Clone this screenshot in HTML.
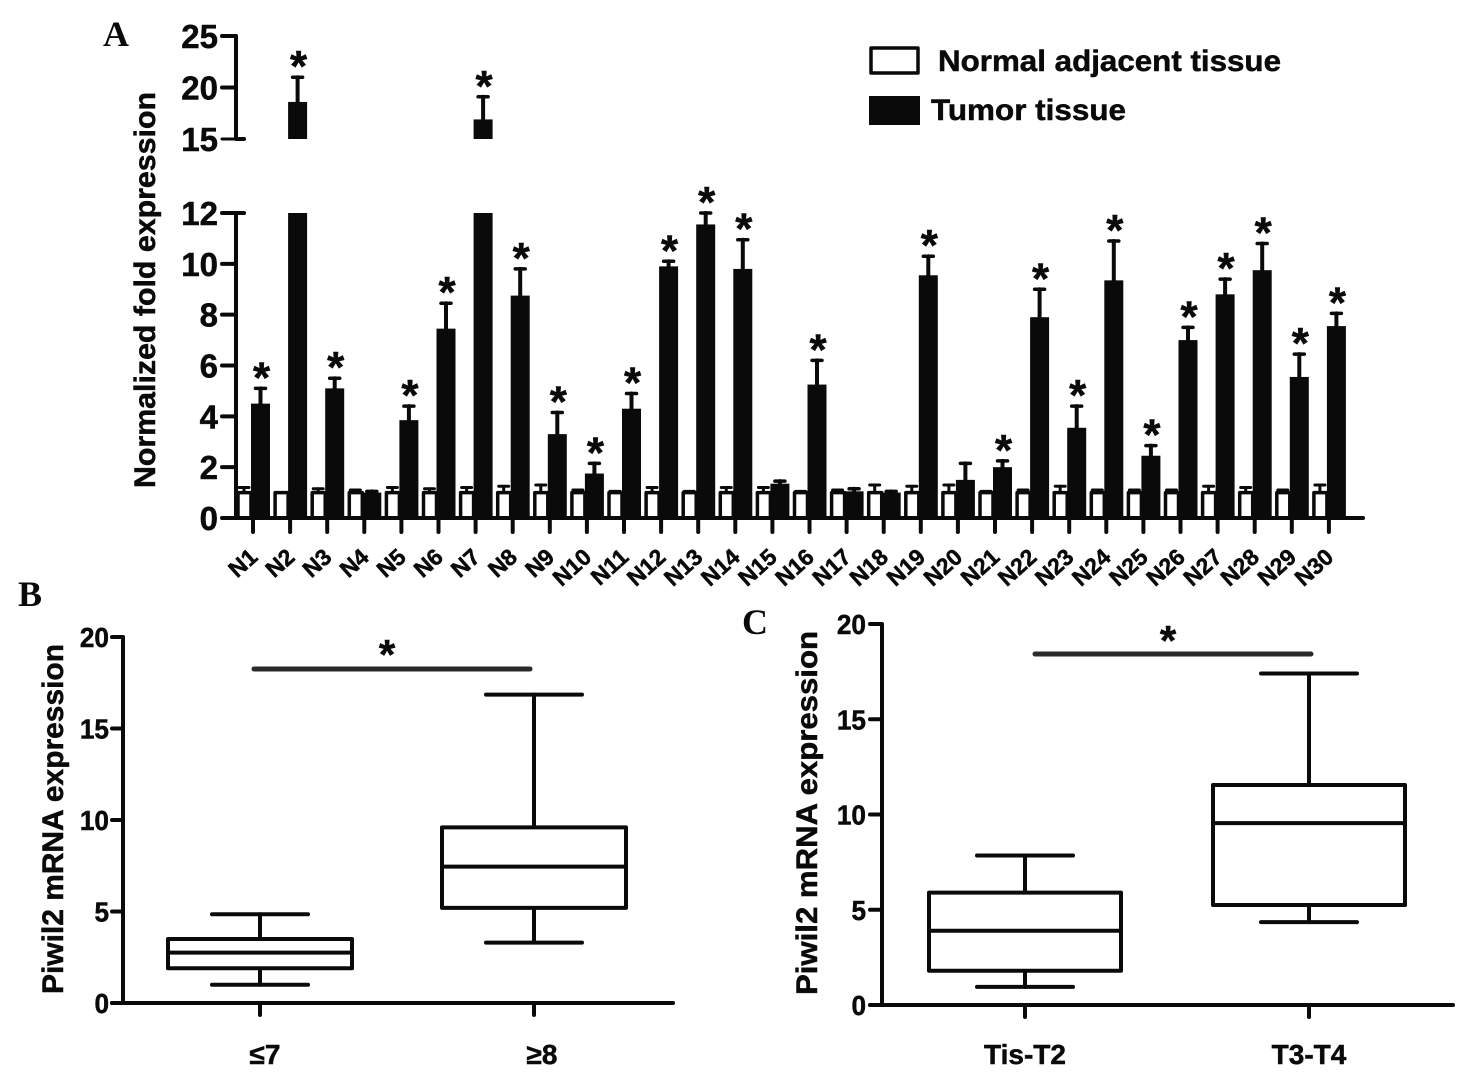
<!DOCTYPE html>
<html lang="en">
<head>
<meta charset="utf-8">
<title>Piwil2 expression figure</title>
<style>
html,body{margin:0;padding:0;background:#fff;}
svg{display:block;}
text{font-family:"Liberation Sans",sans-serif;font-weight:bold;fill:#0a0a0a;stroke:#0a0a0a;stroke-width:.5px;}
.serif{font-family:"Liberation Serif",serif;stroke-width:0;}
</style>
</head>
<body>
<svg id="figure" xmlns="http://www.w3.org/2000/svg" width="1472" height="1083" viewBox="0 0 1472 1083"></svg>
<script>
// Panel A data
const sampleLabels = ["N1","N2","N3","N4","N5","N6","N7","N8","N9","N10","N11","N12","N13","N14","N15","N16","N17","N18","N19","N20","N21","N22","N23","N24","N25","N26","N27","N28","N29","N30"];
const normalMeans = [1,1,1,1,1,1,1,1,1,1,1,1,1,1,1,1,1,1,1,1,1,1,1,1,1,1,1,1,1,1];
const normalErrorTops = [1.2,1.0,1.15,1.1,1.2,1.15,1.2,1.25,1.3,1.1,1.05,1.2,1.05,1.2,1.2,1.05,1.1,1.3,1.25,1.3,1.05,1.1,1.25,1.1,1.1,1.1,1.25,1.2,1.1,1.3];
const tumorMeans = [4.5,18.6,5.1,1.0,3.85,7.45,16.9,8.75,3.3,1.75,4.3,9.9,11.55,9.8,1.35,5.25,1.05,1.0,9.55,1.5,2.0,7.9,3.55,9.35,2.45,7.0,8.8,9.75,5.55,7.55];
const tumorErrorTops = [5.1,21,5.5,1.05,4.4,8.45,19.1,9.8,4.15,2.15,4.9,10.1,12.0,10.95,1.45,6.2,1.15,1.05,10.3,2.15,2.25,9.0,4.4,10.9,2.85,7.5,9.4,10.8,6.45,8.05];
const significant = [1,1,1,0,1,1,1,1,1,1,1,1,1,1,0,1,0,0,1,0,1,1,1,1,1,1,1,1,1,1];
const lowerTicks = [0,2,4,6,8,10,12];
const upperTicks = [15,20,25];
// Panel B data
const panelBCategories = ["\u22647","\u22658"];
const panelBWhiskerHigh = [4.85,16.85];
const panelBQ3 = [3.5,9.6];
const panelBMedian = [2.75,7.45];
const panelBQ1 = [1.9,5.2];
const panelBWhiskerLow = [1.0,3.3];
const panelBTicks = [0,5,10,15,20];
// Panel C data
const panelCCategories = ["Tis-T2","T3-T4"];
const panelCWhiskerHigh = [7.85,17.4];
const panelCQ3 = [5.9,11.55];
const panelCMedian = [3.9,9.55];
const panelCQ1 = [1.8,5.25];
const panelCWhiskerLow = [0.95,4.35];
const panelCTicks = [0,5,10,15,20];

const NS = "http://www.w3.org/2000/svg";
const svg = document.getElementById("figure");
const INK = "#0a0a0a";

function line(x1, y1, x2, y2, w, name, color, cap) {
  const el = document.createElementNS(NS, "line");
  el.setAttribute("x1", x1);
  el.setAttribute("y1", y1);
  el.setAttribute("x2", x2);
  el.setAttribute("y2", y2);
  el.setAttribute("stroke", color || INK);
  el.setAttribute("stroke-width", w);
  el.setAttribute("stroke-linecap", cap || "round");
  
  
  svg.appendChild(el);
  return el;
}
function rect(x, y, w, h, fill, stroke, sw, name) {
  const el = document.createElementNS(NS, "rect");
  el.setAttribute("x", x);
  el.setAttribute("y", y);
  el.setAttribute("width", w);
  el.setAttribute("height", h);
  el.setAttribute("fill", fill);
  if (stroke) {
    el.setAttribute("stroke", stroke);
    el.setAttribute("stroke-width", sw);
    el.setAttribute("stroke-linejoin", "round");
  }
  
  
  svg.appendChild(el);
  return el;
}
function label(str, x, y, size, anchor, name, opts) {
  const o = opts || {};
  const el = document.createElementNS(NS, "text");
  el.setAttribute("x", x);
  el.setAttribute("y", y);
  el.setAttribute("font-size", size);
  el.setAttribute("text-anchor", anchor);
  if (o.rotate !== undefined) el.setAttribute("transform", "rotate(" + o.rotate + " " + x + " " + y + ")");
  if (o.length) {
    el.setAttribute("textLength", o.length);
    el.setAttribute("lengthAdjust", "spacingAndGlyphs");
  }
  if (o.cls) el.setAttribute("class", o.cls);
  el.textContent = str;
  
  
  svg.appendChild(el);
  return el;
}

/* ---------- Panel A ---------- */
const yLower = v => 518 - v * (518 - 213) / 12;
const yUpper = v => 139 - (v - 15) * (139 - 36) / 10;
const yA = v => v > 12 ? yUpper(Math.max(v, 15)) : yLower(v);
const xA = i => 253 + i * 37.1;

label("A", 103, 46, 36, "start", "panel-a-label", {cls: "serif"});

sampleLabels.forEach((name, i) => {
  const tick = xA(i);
  const wTop = yLower(normalMeans[i]);
  const wCx = tick - 9;
  if (normalErrorTops[i] > normalMeans[i]) {
    line(wCx, wTop, wCx, yLower(normalErrorTops[i]), 3, "normal-error-" + name);
    line(wCx - 5, yLower(normalErrorTops[i]), wCx + 5, yLower(normalErrorTops[i]), 3, "normal-error-cap-" + name);
  }
  rect(tick - 15, wTop, 13, 518 - wTop, "#fff", INK, 3.5, "normal-bar-" + name);
});

sampleLabels.forEach((name, i) => {
  const tick = xA(i);
  const cx = tick + 7.5;
  const v = tumorMeans[i];
  const hi = tumorErrorTops[i];
  const capY = yA(hi);
  line(cx, yA(v), cx, capY, 4, "tumor-error-" + name);
  line(cx - 5, capY, cx + 5, capY, 3.5, "tumor-error-cap-" + name);
  if (v > 12) {
    rect(tick - 2, yLower(12), 19, 518 - yLower(12), INK, null, 0, "tumor-bar-lower-" + name);
    rect(tick - 2, yUpper(v), 19, yUpper(15) - yUpper(v), INK, null, 0, "tumor-bar-upper-" + name);
  } else {
    rect(tick - 2, yLower(v), 19, 518 - yLower(v), INK, null, 0, "tumor-bar-" + name);
  }
  if (significant[i]) {
    label("*", cx + 1, capY + 4, 44, "middle", "significance-star-" + name);
  }
  line(tick, 518, tick, 532, 4, "x-tick-" + name);
  label(name, tick + 6, 559, 23, "end", "x-label-" + name, {rotate: -42});
});

line(236, 36, 236, 139, 4, "upper-y-axis", INK, "butt");
line(236, 213, 236, 518, 4, "lower-y-axis", INK, "butt");
line(236, 518, 1363, 518, 4, "x-axis");
upperTicks.forEach(t => {
  line(t === 15 ? 244 : 222, yUpper(t), 236, yUpper(t), 4, "upper-y-tick-" + t);
  if (t === 15) line(222, yUpper(t), 244, yUpper(t), 3, "upper-y-tick-end");
  label(String(t), 218, yUpper(t) + 12, 33, "end", "upper-y-label-" + t);
});
lowerTicks.forEach(t => {
  line(222, yLower(t), t === 12 ? 244 : 236, yLower(t), 4, "lower-y-tick-" + t);
  label(String(t), 218, yLower(t) + 12, 33, "end", "lower-y-label-" + t);
});
label("Normalized fold expression", 155, 290, 30, "middle", "panel-a-y-title", {rotate: -90, length: 396});

/* legend */
rect(871, 48, 47, 25, "#fff", INK, 3.5, "legend-swatch-normal");
rect(869, 96, 51, 29, INK, null, 0, "legend-swatch-tumor");
label("Normal adjacent tissue", 938, 71, 30, "start", "legend-label-normal", {length: 343});
label("Tumor tissue", 931, 120, 30, "start", "legend-label-tumor", {length: 195});

/* ---------- Box panels ---------- */
function drawBoxPanel(p) {
  const y = v => p.y0 - v * p.unit;
  line(p.ax, y(20), p.ax, p.y0, 4, p.id + "-y-axis", INK, "butt");
  line(p.tickL, p.y0, p.xEnd, p.y0, 4, p.id + "-x-axis");
  p.ticks.forEach(t => {
    line(p.tickL, y(t), p.ax, y(t), 4, p.id + "-y-tick-" + t);
    label(String(t), p.labelX, y(t) + 10, p.tickSize, "end", p.id + "-y-label-" + t, {length: String(t).length * p.tickSize * 0.52});
  });
  p.cats.forEach((c, i) => {
    const cx = p.cx[i];
    line(cx, y(p.hi[i]), cx, y(p.q3[i]), 4, p.id + "-whisker-high-" + i);
    line(cx - 48, y(p.hi[i]), cx + 48, y(p.hi[i]), 4, p.id + "-whisker-cap-high-" + i);
    line(cx, y(p.q1[i]), cx, y(p.lo[i]), 4, p.id + "-whisker-low-" + i);
    line(cx - 48, y(p.lo[i]), cx + 48, y(p.lo[i]), 4, p.id + "-whisker-cap-low-" + i);
    rect(cx - p.boxHalf, y(p.q3[i]), p.boxHalf * 2, y(p.q1[i]) - y(p.q3[i]), "#fff", INK, 4, p.id + "-box-" + i);
    line(cx - p.boxHalf, y(p.med[i]), cx + p.boxHalf, y(p.med[i]), 4, p.id + "-median-" + i, INK, "butt");
    line(cx, p.y0, cx, p.y0 + 12, 4, p.id + "-x-tick-" + i);
    label(c, p.catX[i], p.catY, p.catSize, "middle", p.id + "-x-label-" + i);
  });
  line(p.sig[0], p.sig[2], p.sig[1], p.sig[2], 5, p.id + "-significance-line", "#2a2a2a");
  label("*", p.star[0], p.star[1], 42, "middle", p.id + "-significance-star");
}

drawBoxPanel({
  id: "panel-b", ax: 123, y0: 1003, unit: 18.3, tickL: 112, xEnd: 673, labelX: 109, tickSize: 28,
  ticks: panelBTicks, cats: panelBCategories, cx: [260, 534], boxHalf: 92,
  hi: panelBWhiskerHigh, q3: panelBQ3, med: panelBMedian, q1: panelBQ1, lo: panelBWhiskerLow,
  catX: [265, 542], catY: 1064, catSize: 28, sig: [254, 530, 669], star: [387, 669]
});
drawBoxPanel({
  id: "panel-c", ax: 882, y0: 1005, unit: 19.05, tickL: 870, xEnd: 1453, labelX: 866, tickSize: 28,
  ticks: panelCTicks, cats: panelCCategories, cx: [1025, 1309], boxHalf: 96,
  hi: panelCWhiskerHigh, q3: panelCQ3, med: panelCMedian, q1: panelCQ1, lo: panelCWhiskerLow,
  catX: [1025, 1309], catY: 1064, catSize: 28, sig: [1035, 1311, 654], star: [1168, 655]
});

label("B", 18, 606, 36, "start", "panel-b-label", {cls: "serif"});
label("C", 742, 634, 36, "start", "panel-c-label", {cls: "serif"});
label("Piwil2 mRNA expression", 63, 819, 30, "middle", "panel-b-y-title", {rotate: -90, length: 350});
label("Piwil2 mRNA expression", 817, 813, 30, "middle", "panel-c-y-title", {rotate: -90, length: 364});
</script>
</body>
</html>
